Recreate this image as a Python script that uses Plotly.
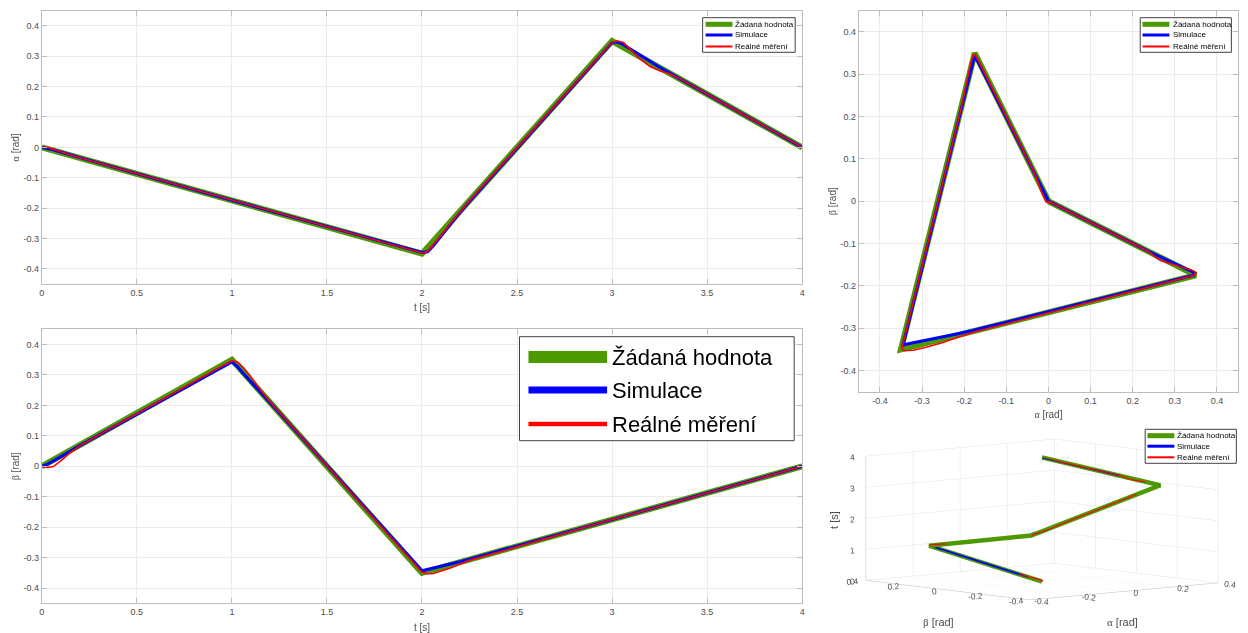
import plotly.graph_objects as go

# ---------------- data ----------------
t_ref = [0, 1, 2, 3, 4]
alpha_ref = [0, -0.175, -0.35, 0.35, 0]
beta_ref = [0, 0.35, -0.35, -0.175, 0]

t_meas = [0, 0.03, 0.06, 0.1, 0.15, 0.2, 1.0, 1.03, 1.06, 1.1, 1.15, 1.2,
          2.0, 2.03, 2.06, 2.1, 2.15, 2.2, 2.25, 3.0, 3.03, 3.06, 3.1, 3.15,
          3.2, 3.25, 3.3, 3.35, 4.0]

alpha_sim = [0, -0.003, -0.008, -0.0155, -0.025, -0.034, -0.174, -0.1795, -0.185,
             -0.192, -0.2005, -0.209, -0.346, -0.344, -0.324, -0.292, -0.253,
             -0.215, -0.178, 0.345, 0.347, 0.338, 0.322, 0.302, 0.283, 0.264,
             0.246, 0.228, 0.0]
beta_sim = [0, 0.007, 0.017, 0.032, 0.050, 0.068, 0.343, 0.327, 0.305, 0.278,
            0.244, 0.210, -0.343, -0.339, -0.335, -0.329, -0.321, -0.313, -0.305,
            -0.175, -0.1697, -0.1645, -0.1575, -0.149, -0.140, -0.131, -0.1225,
            -0.114, 0.0]

alpha_meas = [0, 0.0, -0.006, -0.015, -0.025, -0.034, -0.174, -0.1795, -0.185,
              -0.192, -0.2005, -0.209, -0.348, -0.343, -0.321, -0.290, -0.251,
              -0.213, -0.176, 0.346, 0.350, 0.345, 0.322, 0.290, 0.266, 0.252,
              0.243, 0.228, 0.0]
beta_meas = [0, -0.004, -0.001, 0.018, 0.045, 0.068, 0.347, 0.343, 0.324, 0.294,
             0.251, 0.212, -0.348, -0.353, -0.352, -0.345, -0.334, -0.321, -0.309,
             -0.175, -0.169, -0.1645, -0.1575, -0.149, -0.140, -0.131, -0.1225,
             -0.114, 0.0]

names = ["Žádaná hodnota", "Simulace", "Reálné měření"]

t_ticks = [0, 0.5, 1, 1.5, 2, 2.5, 3, 3.5, 4]
t_ticktext = ["0", "0.5", "1", "1.5", "2", "2.5", "3", "3.5", "4"]
ang_ticks = [-0.4, -0.3, -0.2, -0.1, 0, 0.1, 0.2, 0.3, 0.4]
ang_ticktext = ["-0.4", "-0.3", "-0.2", "-0.1", "0", "0.1", "0.2", "0.3", "0.4"]
ang3_ticks = [-0.4, -0.2, 0, 0.2, 0.4]
ang3_ticktext = ["-0.4", "-0.2", "0", "0.2", "0.4"]
t3_ticks = [0, 1, 2, 3, 4]
t3_ticktext = ["0", "1", "2", "3", "4"]

# ---------------- style ----------------
GREEN = "#4d9900"
BLUE = "#0000ff"
RED = "#ff0000"
colors = [GREEN, BLUE, RED]
widths = [6, 3, 1.6]
widths3d = [9, 3.5, 2.2]

W, H = 1248, 633
FONT = "Liberation Sans, Arial, Helvetica, sans-serif"
GREEK = "<span style='font-family:Liberation Serif, serif'>%s</span>"

fig = go.Figure()


def px(x):
    return x / W


def py(y):
    return 1 - y / H


series = [
    ("x", "y", t_ref, alpha_ref, t_meas, alpha_sim, t_meas, alpha_meas),
    ("x2", "y2", t_ref, beta_ref, t_meas, beta_sim, t_meas, beta_meas),
    ("x3", "y3", alpha_ref, beta_ref, alpha_sim, beta_sim, alpha_meas, beta_meas),
]
for xa, ya, rx, ry, sx, sy, mx, my in series:
    data = [(rx, ry), (sx, sy), (mx, my)]
    for i, (xx, yy) in enumerate(data):
        fig.add_trace(go.Scatter(
            x=xx, y=yy, mode="lines", name=names[i], xaxis=xa, yaxis=ya,
            line=dict(color=colors[i], width=widths[i]),
            showlegend=False, hoverinfo="skip"))

# 3D: thin lines first so they stay visible over the thick reference line
data3d = [(alpha_ref, beta_ref, t_ref), (alpha_sim, beta_sim, t_meas),
          (alpha_meas, beta_meas, t_meas)]
for i in [2, 1, 0]:
    xx, yy, zz = data3d[i]
    fig.add_trace(go.Scatter3d(
        x=xx, y=yy, z=zz, mode="lines", name=names[i], scene="scene",
        line=dict(color=colors[i], width=widths3d[i]), showlegend=False,
        hoverinfo="skip"))

axcommon = dict(showline=True, linecolor="#bdbdbd", linewidth=1, mirror="ticks",
                ticks="inside", ticklen=5, tickcolor="#bdbdbd", showgrid=True,
                gridcolor="#ebebeb", gridwidth=1, zeroline=False,
                tickfont=dict(family=FONT, size=9, color="#4d4d4d"),
                title_font=dict(family=FONT, size=10, color="#4d4d4d"))

tl = dict(x=[px(39), px(803)], y=[py(284), py(10.7)])
bl = dict(x=[px(39), px(803)], y=[py(603.3), py(329.3)])
tr = dict(x=[px(860), px(1241)], y=[py(391.7), py(10.7)])

fig.update_layout(
    width=W, height=H, margin=dict(l=0, r=0, t=0, b=0),
    paper_bgcolor="white", plot_bgcolor="white",
    xaxis=dict(domain=tl["x"], range=[0, 4], tickvals=t_ticks, ticktext=t_ticktext,
               title=dict(text="t [s]", standoff=7), anchor="y", **axcommon),
    yaxis=dict(domain=tl["y"], range=[-0.45, 0.45], tickvals=ang_ticks, ticktext=ang_ticktext,
               title=dict(text=GREEK % "α" + " [rad]", standoff=1), anchor="x", **axcommon),
    xaxis2=dict(domain=bl["x"], range=[0, 4], tickvals=t_ticks, ticktext=t_ticktext,
                title=dict(text="t [s]", standoff=7), anchor="y2", **axcommon),
    yaxis2=dict(domain=bl["y"], range=[-0.45, 0.45], tickvals=ang_ticks, ticktext=ang_ticktext,
                title=dict(text=GREEK % "β" + " [rad]", standoff=1), anchor="x2", **axcommon),
    xaxis3=dict(domain=tr["x"], range=[-0.45, 0.45], tickvals=ang_ticks, ticktext=ang_ticktext,
                title=dict(text=GREEK % "α" + " [rad]", standoff=6), anchor="y3", **axcommon),
    yaxis3=dict(domain=tr["y"], range=[-0.45, 0.45], tickvals=ang_ticks, ticktext=ang_ticktext,
                title=dict(text=GREEK % "β" + " [rad]", standoff=2), anchor="x3", **axcommon),
    showlegend=False,
)

ax3 = dict(showbackground=False, showgrid=True, gridcolor="#e3e3e3", gridwidth=1,
           showline=True, linecolor="#bdbdbd", zeroline=False, showspikes=False,
           ticks="outside", ticklen=0, title=dict(text=""),
           tickfont=dict(family=FONT, size=10, color="#4d4d4d"))
EYE_R = 3.0
SC = 2.2
fig.update_layout(scene=dict(
    domain=dict(x=[px(840), 1.0], y=[0.0, py(406)]),
    xaxis=dict(range=[-0.4, 0.4], tickvals=ang3_ticks, ticktext=ang3_ticktext, **ax3),
    yaxis=dict(range=[-0.4, 0.4], tickvals=ang3_ticks, ticktext=ang3_ticktext, **ax3),
    zaxis=dict(range=[0, 4], tickvals=t3_ticks, ticktext=t3_ticktext, **ax3),
    aspectmode="manual", aspectratio=dict(x=SC, y=SC, z=0.5 * SC),
    camera=dict(projection=dict(type="orthographic"),
                eye=dict(x=-0.653 * EYE_R, y=-0.751 * EYE_R, z=0.104 * EYE_R),
                center=dict(x=0, y=0, z=0), up=dict(x=0, y=0, z=1)),
    bgcolor="white"))

# 3D axis titles placed like the MATLAB labels
for txt, (ax_, ay_), ang in [(GREEK % "β" + " [rad]", (940, 622), 0),
                             (GREEK % "α" + " [rad]", (1125, 622), 0),
                             ("t [s]", (835, 520), -90)]:
    fig.add_annotation(x=px(ax_), y=py(ay_), xref="paper", yref="paper", text=txt,
                       showarrow=False, xanchor="center", yanchor="middle", textangle=ang,
                       font=dict(family=FONT, size=11, color="#4d4d4d"))


# ---- legends drawn as keys + text (MATLAB style) ----
def legend_box(x0, y0, x1, y1, lx0, lx1, tx, ys, lw, fsize):
    fig.add_shape(type="rect", xref="paper", yref="paper", x0=px(x0), x1=px(x1),
                  y0=py(y1), y1=py(y0), line=dict(color="#404040", width=1),
                  fillcolor="white", layer="above")
    for i, yy in enumerate(ys):
        fig.add_shape(type="line", xref="paper", yref="paper", x0=px(lx0), x1=px(lx1),
                      y0=py(yy), y1=py(yy), line=dict(color=colors[i], width=lw[i]),
                      layer="above")
        fig.add_annotation(x=px(tx), y=py(yy), xref="paper", yref="paper", text=names[i],
                           showarrow=False, xanchor="left", yanchor="middle",
                           font=dict(family=FONT, size=fsize, color="black"))


legend_box(703, 17.7, 796, 52.3, 706, 733, 733.5, [24.3, 35.0, 46.5], [5, 3, 2], 8)
legend_box(519, 336.7, 795, 440.7, 528, 607, 610, [357.0, 390.0, 424.0], [12, 7, 4.5], 22)
legend_box(1142.7, 17.7, 1234.3, 52.3, 1145, 1172, 1173.5, [24.3, 35.0, 46.5], [5, 3, 2], 8)
legend_box(1147.7, 429.3, 1239.3, 463.3, 1150, 1177, 1178, [435.7, 446.2, 457.3], [5, 3, 2], 8)

fig.write_html("out.html")
